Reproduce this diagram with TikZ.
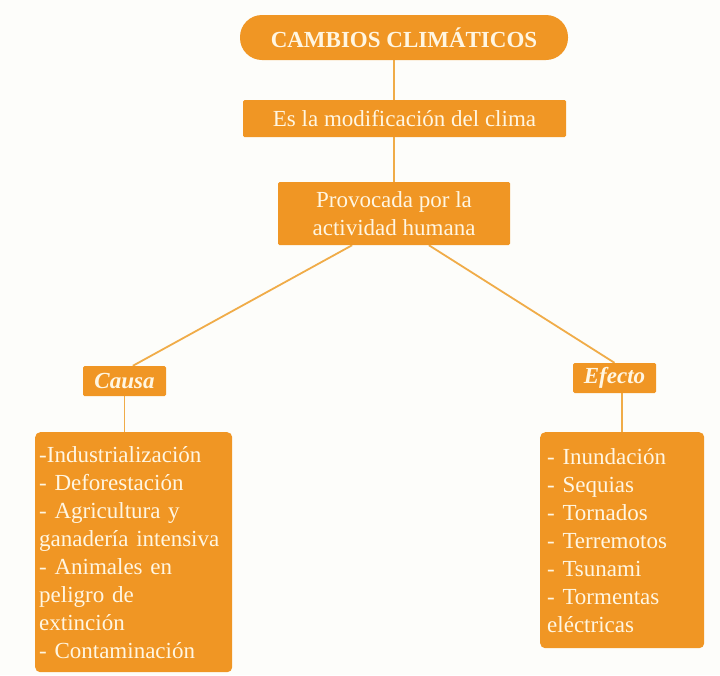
\documentclass[tikz,border=0pt]{standalone}
\usepackage{fontspec}
\setmainfont{Liberation Serif}
\usetikzlibrary{calc, backgrounds}
\definecolor{naranja}{RGB}{240,150,36}
\definecolor{linea}{RGB}{240,172,72}
\definecolor{crema}{RGB}{255,246,226}
\definecolor{fondo}{RGB}{253,253,250}

\begin{document}
\begin{tikzpicture} [x=1pt, y=-1pt,
    box/.style={fill=naranja, text=crema, inner sep=0pt, rounded corners=1.5pt,
        font=\fontsize{23}{28}\selectfont, align=center},
    lista/.style={box, rounded corners=5pt, align=left, anchor=north west},
    link/.style={draw=linea, line width=1.8pt}]
      \useasboundingbox (0,0) rectangle (720,675);
      \node[box, rounded corners=22pt, minimum width=328pt, minimum height=45pt,
          font=\fontsize{23}{28}\selectfont\bfseries] (title) at (404,37.5) {CAMBIOS CLIMÁTICOS};
      \node[box, minimum width=323pt, minimum height=37pt] (def) at (404.5,118.5) {Es la modificación del clima};
      \node[box, minimum width=232pt, minimum height=63pt] (prov) at (394,213.5) {Provocada por la\\actividad humana};
      \node[box, minimum width=83pt, minimum height=30pt,
          font=\fontsize{23}{28}\selectfont\bfseries\itshape] (causa) at (124.5,381) {Causa};
      \node[box, minimum width=83pt, minimum height=30pt,
          font=\fontsize{23}{28}\selectfont\bfseries\itshape] (efecto) at (614.5,378) {Efecto};
      \node[lista, minimum width=197pt, minimum height=240pt, text width=189pt,
          inner xsep=4pt, inner ysep=10pt] (causas) at (35,432)
      {-Industrialización\\- Deforestación\\- Agricultura y\\ganadería intensiva\\- Animales en\\peligro de\\extinción\\- Contaminación};
      \node[lista, minimum width=164pt, minimum height=216pt, text width=150pt,
          inner xsep=7pt, inner ysep=10pt] (efectos) at (540,432)
      {- Inundación\\- Sequias\\- Tornados\\- Terremotos\\- Tsunami\\- Tormentas\\eléctricas};

      \begin{scope}[on background layer]
      \fill[fondo] (0,0) rectangle (720,675);
      \draw[link] (title.south -| prov.north) -- (prov.north);
      \draw[link] ($(prov.south west)!0.32!(prov.south east)$) -- ($(causa.north west)!0.6!(causa.north east)$);
      \draw[link] ($(prov.south west)!0.65!(prov.south east)$) -- (efecto.north);
      \draw[link] (causa.south) -- (causa.south |- causas.north);
      \draw[link] (efectos.north) -- (efectos.north |- efecto.south);
      \end{scope}
\end{tikzpicture}
\end{document}
